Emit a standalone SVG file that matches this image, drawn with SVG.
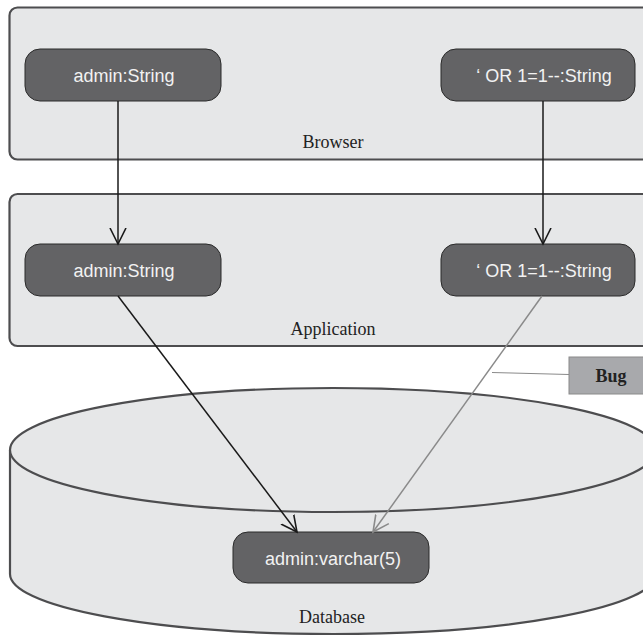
<svg xmlns="http://www.w3.org/2000/svg" width="643" height="636" viewBox="0 0 643 636">
<style>
.panel{fill:#e6e7e8;stroke:#4d4d4f;stroke-width:2.2}
.node{fill:#636365;stroke:#2a2a2a;stroke-width:1}
.ntext{font-family:"Liberation Sans",Arial,sans-serif;font-size:18px;fill:#f2f2f2;text-anchor:middle}
.label{font-family:"Liberation Serif","Times New Roman",serif;font-size:18px;fill:#222;text-anchor:middle}
.edge{fill:none;stroke:#1a1a1a;stroke-width:1.5}
.edge2{fill:none;stroke:#8a8a8a;stroke-width:1.5}
.bugline{fill:none;stroke:#8a8a8a;stroke-width:1}
</style>
<defs>
<marker id="ah" viewBox="0 0 20 20" refX="16" refY="10" markerWidth="20" markerHeight="20" markerUnits="userSpaceOnUse" orient="auto">
<path d="M0,2 L16,10 L0,18" fill="none" stroke="#1a1a1a" stroke-width="1.6"/>
</marker>
<marker id="ahg" viewBox="0 0 20 20" refX="16" refY="10" markerWidth="20" markerHeight="20" markerUnits="userSpaceOnUse" orient="auto">
<path d="M0,2 L16,10 L0,18" fill="none" stroke="#8a8a8a" stroke-width="1.6"/>
</marker>
</defs>
<rect width="643" height="636" fill="#ffffff"/>

<g id="browser">
<rect class="panel" x="9.5" y="7.5" width="660" height="152" rx="8"/>
<text class="label" x="333" y="148">Browser</text>
</g>

<g id="application">
<rect class="panel" x="9.5" y="194" width="660" height="152" rx="8"/>
<text class="label" x="333" y="335">Application</text>
</g>

<g id="database">
<path class="panel" d="M10,450 L10,574 A323,60 0 0 0 656,574 L656,450"/>
<ellipse class="panel" cx="333" cy="450" rx="323" ry="62"/>
<text class="label" x="332" y="623">Database</text>
</g>

<g id="browser-admin">
<rect class="node" x="25" y="49" width="196" height="52" rx="15"/>
<text class="ntext" x="124" y="82">admin:String</text>
</g>
<g id="browser-or">
<rect class="node" x="441" y="49" width="194" height="52" rx="15"/>
<text class="ntext" x="544" y="82">‘ OR 1=1--:String</text>
</g>
<g id="app-admin">
<rect class="node" x="25" y="244" width="196" height="52" rx="15"/>
<text class="ntext" x="124" y="277">admin:String</text>
</g>
<g id="app-or">
<rect class="node" x="441" y="244" width="194" height="52" rx="15"/>
<text class="ntext" x="544" y="277">‘ OR 1=1--:String</text>
</g>
<g id="db-admin">
<rect class="node" x="233" y="532" width="196" height="51" rx="15"/>
<text class="ntext" x="333" y="565">admin:varchar(5)</text>
</g>

<g id="bug">
<rect x="569" y="357" width="80" height="37" fill="#a8a9ac" stroke="#8a8a8a" stroke-width="1"/>
<text x="611" y="382" font-family="'Liberation Serif','Times New Roman',serif" font-size="18" font-weight="bold" fill="#222" text-anchor="middle">Bug</text>
</g>

<g id="connectors">
<line class="edge" x1="118" y1="101" x2="118" y2="244" marker-end="url(#ah)"/>
<line class="edge" x1="543" y1="101" x2="543" y2="244" marker-end="url(#ah)"/>
<line class="edge" x1="118" y1="296" x2="297" y2="532" marker-end="url(#ah)"/>
<line class="edge2" x1="542" y1="296" x2="373" y2="532" marker-end="url(#ahg)"/>
<line class="bugline" x1="492" y1="372.5" x2="569" y2="374.5"/>
</g>
</svg>
